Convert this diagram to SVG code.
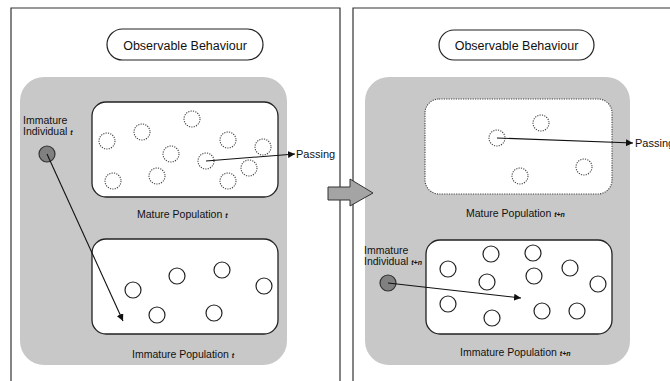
<svg xmlns="http://www.w3.org/2000/svg" width="670" height="381" viewBox="0 0 670 381">
  <style>
    text { font-family: "Liberation Sans", Arial, sans-serif; fill: #111; }
    .frame { fill: #fff; stroke: #333; stroke-width: 1.2; }
    .pill { fill: #fff; stroke: #222; stroke-width: 1.2; }
    .zone { fill: #c8c8c8; }
    .box { fill: #fff; stroke: #222; stroke-width: 1.3; }
    .box-dot { fill: #fff; stroke: #444; stroke-width: 1.1; stroke-dasharray: 1.2 1.2; }
    .ind { fill: #fff; stroke: #222; stroke-width: 1.2; }
    .ind-dot { fill: #fff; stroke: #444; stroke-width: 1.1; stroke-dasharray: 1.2 1.2; }
    .focus { fill: #808080; stroke: #333; stroke-width: 1.2; }
    .title { font-size: 12.5px; text-anchor: middle; }
    .lbl { font-size: 10.5px; }
    .sub { font-size: 7px; font-style: italic; font-weight: bold; }
    .link { stroke: #111; stroke-width: 1.1; fill: none; marker-end: url(#tip); }
  </style>
  <defs>
    <marker id="tip" viewBox="0 0 10 10" refX="10" refY="5" markerWidth="7" markerHeight="7" markerUnits="userSpaceOnUse" orient="auto">
      <path d="M0,0 L10,5 L0,10 z" fill="#111"/>
    </marker>
  </defs>

  <rect width="670" height="381" fill="#fff"/>

  <!-- time t -->
  <g id="panel-t">
    <path class="frame" d="M11,390 V8 H340 V390"/>
    <g id="behaviour-t">
      <rect class="pill" x="107" y="29" width="156" height="31" rx="15.5"/>
      <text class="title" x="185" y="49.5">Observable Behaviour</text>
    </g>
    <rect class="zone" x="20" y="77" width="267" height="288" rx="24"/>
    <g id="mature-t">
      <rect class="box" x="92" y="102" width="186" height="95" rx="14"/>
      <g class="ind-dot">
        <circle cx="107" cy="141" r="8"/>
        <circle cx="142" cy="132" r="8"/>
        <circle cx="192" cy="119" r="8"/>
        <circle cx="171" cy="154" r="8"/>
        <circle cx="206" cy="161" r="8"/>
        <circle cx="228" cy="140" r="8"/>
        <circle cx="263" cy="147" r="8"/>
        <circle cx="249" cy="168" r="8"/>
        <circle cx="113" cy="181" r="8"/>
        <circle cx="157" cy="176" r="8"/>
        <circle cx="228" cy="181" r="8"/>
      </g>
      <text class="lbl" x="137" y="218">Mature Population <tspan class="sub">t</tspan></text>
    </g>
    <g id="immature-t">
      <rect class="box" x="92" y="239" width="186" height="95" rx="14"/>
      <g class="ind">
        <circle cx="133" cy="290" r="8"/>
        <circle cx="177" cy="276" r="8"/>
        <circle cx="222" cy="270" r="8"/>
        <circle cx="264" cy="286" r="8"/>
        <circle cx="157" cy="315" r="8"/>
        <circle cx="214" cy="313" r="8"/>
      </g>
      <text class="lbl" x="132" y="358">Immature Population <tspan class="sub">t</tspan></text>
    </g>
    <g id="individual-t">
      <circle class="focus" cx="47" cy="154" r="8"/>
      <text class="lbl" x="23" y="124">Immature</text>
      <text class="lbl" x="23" y="135">Individual <tspan class="sub">t</tspan></text>
    </g>
    <text id="passing-t" class="lbl" x="296" y="158" style="font-size:11px">Passing</text>
  </g>

  <!-- time t+n -->
  <g id="panel-tn">
    <path class="frame" d="M353,390 V8 H680"/>
    <g id="behaviour-tn">
      <rect class="pill" x="439" y="30" width="155" height="30" rx="15"/>
      <text class="title" x="516.5" y="50">Observable Behaviour</text>
    </g>
    <rect class="zone" x="365" y="77" width="265" height="288" rx="24"/>
    <g id="mature-tn">
      <rect class="box-dot" x="425" y="99" width="187" height="95" rx="14"/>
      <g class="ind-dot">
        <circle cx="497" cy="138" r="8"/>
        <circle cx="541" cy="123" r="8"/>
        <circle cx="520" cy="176" r="8"/>
        <circle cx="584" cy="167" r="8"/>
      </g>
      <text class="lbl" x="466" y="217">Mature Population <tspan class="sub">t+n</tspan></text>
    </g>
    <g id="immature-tn">
      <rect class="box" x="426" y="240" width="186" height="94" rx="14"/>
      <g class="ind">
        <circle cx="448" cy="269" r="8"/>
        <circle cx="491" cy="254" r="8"/>
        <circle cx="533" cy="253" r="8"/>
        <circle cx="570" cy="268" r="8"/>
        <circle cx="598" cy="284" r="8"/>
        <circle cx="487" cy="282" r="8"/>
        <circle cx="534" cy="276" r="8"/>
        <circle cx="448" cy="304" r="8"/>
        <circle cx="492" cy="318" r="8"/>
        <circle cx="542" cy="311" r="8"/>
        <circle cx="577" cy="311" r="8"/>
      </g>
      <text class="lbl" x="460" y="356">Immature Population <tspan class="sub">t+n</tspan></text>
    </g>
    <g id="individual-tn">
      <circle class="focus" cx="388" cy="283" r="8"/>
      <text class="lbl" x="364" y="254">Immature</text>
      <text class="lbl" x="364" y="265">Individual <tspan class="sub">t+n</tspan></text>
    </g>
    <text id="passing-tn" class="lbl" x="635" y="147" style="font-size:11px">Passing</text>
  </g>

  <!-- transition from t to t+n -->
  <path id="step" d="M328,187 H350 V179 L373,193 L350,206 V200 H328 Z" fill="#a4a4a4" stroke="#333" stroke-width="1"/>

  <g id="connectors">
    <line class="link" x1="206" y1="161" x2="295" y2="154"/>
    <line class="link" x1="47" y1="154" x2="123" y2="321"/>
    <line class="link" x1="497" y1="138" x2="633" y2="143"/>
    <line class="link" x1="388" y1="283" x2="521" y2="298"/>
  </g>
</svg>
